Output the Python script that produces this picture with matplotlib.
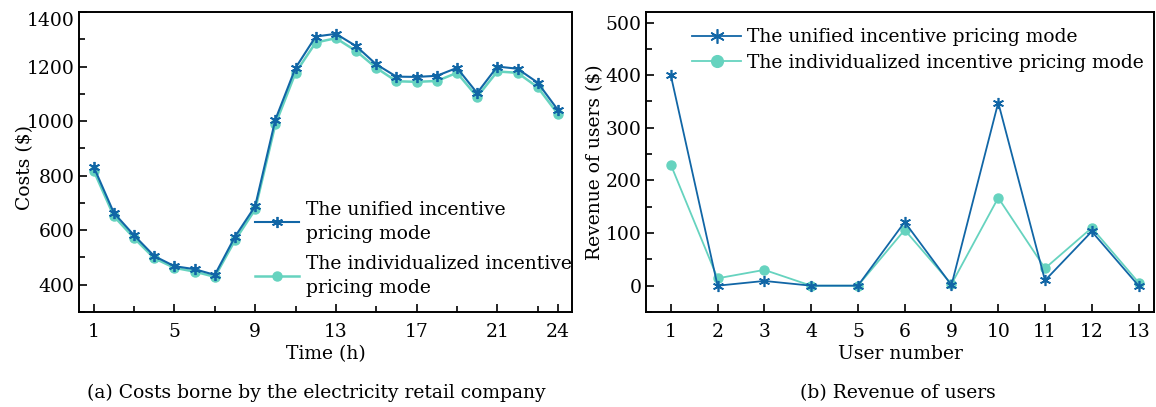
import matplotlib
matplotlib.use("Agg")
import matplotlib.pyplot as plt
from matplotlib.ticker import FixedLocator, MultipleLocator

# ---- data -------------------------------------------------------------
hours = list(range(1, 25))
cost_unified = [832, 663, 581, 505, 468, 457, 436, 576, 688, 1005, 1195, 1310,
                1320, 1275, 1208, 1163, 1162, 1166, 1195, 1103, 1200, 1192, 1141, 1041]
cost_individual = [818, 651, 571, 497, 462, 448, 429, 563, 676, 988, 1177, 1288,
                   1304, 1257, 1195, 1146, 1144, 1147, 1177, 1089, 1182, 1177, 1124, 1026]

users = ["1", "2", "3", "4", "5", "6", "9", "10", "11", "12", "13"]
rev_unified = [400, 0, 9, 0, 0, 121, 1, 348, 10, 103, 0]
rev_individual = [230, 14, 30, 0, 0, 106, 3, 167, 33, 110, 6]

label_unified = "The unified incentive pricing mode"
label_individual = "The individualized incentive pricing mode"

c_blue = "#1166a6"
c_teal = "#66d3bf"

FS = 13.5
plt.rcParams["font.family"] = ["DejaVu Serif"]
plt.rcParams["font.size"] = FS
plt.rcParams["axes.linewidth"] = 1.4

fig = plt.figure(figsize=(11.56, 4.07), dpi=100)
W, H = 1156, 407

def axes_px(l, r, t, b):
    return fig.add_axes([l / W, 1 - b / H, (r - l) / W, (b - t) / H])

asterisk = (6, 2, 0)

# ---- (a) costs ---------------------------------------------------------
ax1 = axes_px(79, 572, 12, 312)
ax1.plot(hours, cost_unified, color=c_blue, lw=1.5, marker=asterisk, ms=8,
         mew=1.3, label="The unified incentive\npricing mode", zorder=3)
ax1.plot(hours, cost_individual, color=c_teal, lw=1.8, marker="o", ms=6.5,
         label="The individualized incentive\npricing mode", zorder=2)
ax1.set_xlim(0.27, 24.7)
ax1.set_ylim(300, 1400)
ax1.xaxis.set_major_locator(FixedLocator([1, 5, 9, 13, 17, 21, 24]))
ax1.xaxis.set_minor_locator(FixedLocator([3, 7, 11, 15, 19, 23]))
ax1.set_yticks([400, 600, 800, 1000, 1200, 1400])
ax1.yaxis.set_minor_locator(MultipleLocator(100))
ax1.tick_params(which="both", direction="in", top=False, right=False, width=1.2)
ax1.tick_params(which="major", length=6)
ax1.tick_params(which="minor", length=4)
ax1.tick_params(axis="x", pad=8)
ax1.tick_params(axis="y", pad=3)
ax1.set_xlabel("Time (h)", labelpad=3)
ax1.set_ylabel("Costs ($)")
ax1.yaxis.set_label_coords(-0.091, 0.483)
ax1.yaxis.get_major_ticks()[-1].label1.set_va("top")
leg1 = ax1.legend(loc="upper left", bbox_to_anchor=(0.358, 0.37), frameon=False,
                  borderpad=0, borderaxespad=0, handlelength=2.3, handletextpad=0.4,
                  labelspacing=0.67, fontsize=FS)
for t in leg1.get_texts():
    t.set_linespacing(1.4)

# ---- (b) revenue -------------------------------------------------------
xpos = list(range(len(users)))
ax2 = axes_px(646, 1154, 12, 312)
ax2.plot(xpos, rev_unified, color=c_blue, lw=1.3, marker=asterisk, ms=8,
         mew=1.2, label=label_unified, zorder=3)
ax2.plot(xpos, rev_individual, color=c_teal, lw=1.3, marker="o", ms=6.5,
         label=label_individual, zorder=2)
ax2.set_xlim(-0.53, 10.33)
ax2.set_ylim(-50, 520)
ax2.set_xticks(xpos)
ax2.set_xticklabels(users)
ax2.yaxis.set_major_locator(MultipleLocator(100))
ax2.yaxis.set_minor_locator(MultipleLocator(50))
ax2.tick_params(which="both", direction="in", top=False, right=False, width=1.2)
ax2.tick_params(which="major", length=6)
ax2.tick_params(which="minor", length=4)
ax2.tick_params(axis="x", pad=8)
ax2.tick_params(axis="y", pad=3)
ax2.set_xlabel("User number", labelpad=3)
ax2.set_ylabel("Revenue of users ($)")
ax2.yaxis.set_label_coords(-0.083, 0.5)
ax2.legend(loc="upper left", bbox_to_anchor=(0.09, 0.945), frameon=False,
           borderpad=0, borderaxespad=0, handlelength=2.65, handletextpad=0.3,
           labelspacing=0.4, markerscale=1.3, fontsize=FS)

# ---- captions ----------------------------------------------------------
fig.text(316 / W, 1 - 393 / H, "(a) Costs borne by the electricity retail company",
         ha="center", va="center", fontsize=FS)
fig.text(898 / W, 1 - 393 / H, "(b) Revenue of users",
         ha="center", va="center", fontsize=FS)

fig.savefig("out.png", dpi=100)
